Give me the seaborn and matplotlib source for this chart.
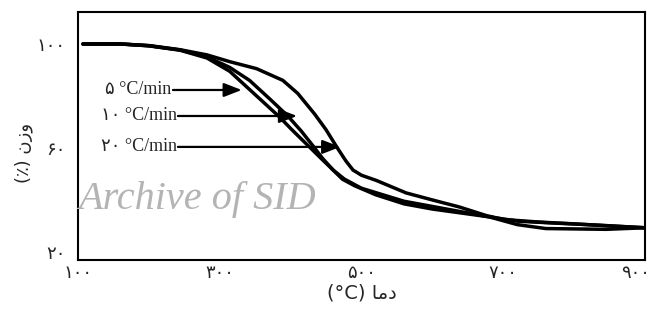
import numpy as np
import pandas as pd
import matplotlib
matplotlib.use("Agg")
import matplotlib.pyplot as plt
import matplotlib.transforms as mtransforms
import seaborn as sns

# ---- data ----
rates = ["۵ °C/min", "۱۰ °C/min", "۲۰ °C/min"]

t5 = [107, 160, 200, 244, 282, 314, 332, 360, 384, 400, 413, 428, 441, 460, 473, 490, 520, 560, 600, 640, 680, 722, 780, 835, 900]
w5 = [100, 100, 99.3, 97.6, 94.6, 89.5, 85, 78, 72, 67.5, 64, 60, 56.5, 51.5, 48, 45.5, 42, 38.5, 36.5, 35, 33.5, 31.8, 31, 30.3, 29.3]

t10 = [107, 160, 200, 244, 282, 314, 342, 370, 396, 415, 431, 445, 460, 476, 500, 530, 560, 600, 640, 680, 720, 760, 845, 900]
w10 = [100, 100, 99.3, 97.7, 95, 91, 86, 79, 72.3, 66.5, 61, 56, 51.5, 48, 44.5, 42, 39.5, 37.5, 35.5, 33.5, 30.5, 29, 28.7, 29.3]

t20 = [107, 160, 200, 244, 282, 314, 352, 389, 410, 434, 450, 465, 478, 488, 500, 521, 563, 600, 638, 676, 700, 750, 800, 850, 900]
w20 = [100, 100, 99.4, 97.8, 95.8, 93.2, 90.5, 86, 81, 73, 67, 60.4, 55, 51.5, 49.5, 47.5, 42.7, 40, 37.3, 34, 32.5, 31.5, 30.8, 30, 29.3]

xticks = [100, 300, 500, 700, 900]
xticklabels = ["۱۰۰", "۳۰۰", "۵۰۰", "۷۰۰", "۹۰۰"]
yticks = [20, 40, 60, 80, 100]
yticklabels = ["۲۰", "", "۶۰", "", "۱۰۰"]

# arrow (start, tip) positions for annotations
arrow_start_t = [234, 241, 241]
arrow_tip_t = [331, 409, 470]
arrow_w = [82.3, 72.3, 60.4]

df = pd.concat([
    pd.DataFrame({"T": t5, "W": w5, "rate": rates[0]}),
    pd.DataFrame({"T": t10, "W": w10, "rate": rates[1]}),
    pd.DataFrame({"T": t20, "W": w20, "rate": rates[2]}),
])

sns.set_style("white")
plt.rcParams["font.family"] = ["DejaVu Sans"]

fig = plt.figure(figsize=(6.55, 3.18), dpi=100)
ax = fig.add_axes([78 / 655, 1 - 260 / 318, (645 - 78) / 655, (260 - 12) / 318])

sns.lineplot(data=df, x="T", y="W", hue="rate", palette=["black"] * 3,
             sort=False, estimator=None, linewidth=2.5, legend=False, ax=ax)
for ln in ax.lines:
    ln.set_solid_joinstyle("round")
    ln.set_solid_capstyle("round")

ax.set_xlim(100, 900)
ax.set_ylim(16.9, 112.3)
ax.set_xticks(xticks)
ax.set_xticklabels(xticklabels, fontsize=13)
ax.set_yticks(yticks)
ax.set_yticklabels(yticklabels, fontsize=13)
ax.tick_params(axis="x", direction="in", length=5, width=1.2, color="black", pad=3)
ax.tick_params(axis="y", direction="in", length=5, width=1.2, color="black", pad=9)
for s in ax.spines.values():
    s.set_color("black")
    s.set_linewidth(1.5)

# shift the last x tick label a little left so that it stays inside the picture
lastlab = ax.get_xticklabels()[-1]
lastlab.set_transform(lastlab.get_transform() +
                      mtransforms.ScaledTranslation(-9 / 100, 0, fig.dpi_scale_trans))

# labels (visual order for RTL Persian text)
ax.set_xlabel("(°C) " + "\uFE8E\uFEE3\u062F", fontsize=14, labelpad=1)
ax.set_ylabel("(٪) " + "\u0646\u0632\u0648", fontsize=13)
ax.yaxis.set_label_coords(-0.08, 0.43)

# annotations
for lab, ts, tt, w in zip(rates, arrow_start_t, arrow_tip_t, arrow_w):
    ax.text(ts - 2, w, lab, ha="right", va="center", fontsize=13,
            family=["Liberation Serif", "DejaVu Sans"])
    ax.annotate("", xy=(tt, w), xytext=(ts, w),
                arrowprops=dict(arrowstyle="-|>,head_length=0.9,head_width=0.35",
                                color="black", lw=1.6, mutation_scale=12,
                                shrinkA=0, shrinkB=0))

# watermark
fig.text(197 / 655, 1 - 200 / 318, "Archive of SID", ha="center", va="center",
         fontsize=29, style="italic", color="#b4b4b4", family="Liberation Serif")

fig.savefig("out.png", dpi=100)
